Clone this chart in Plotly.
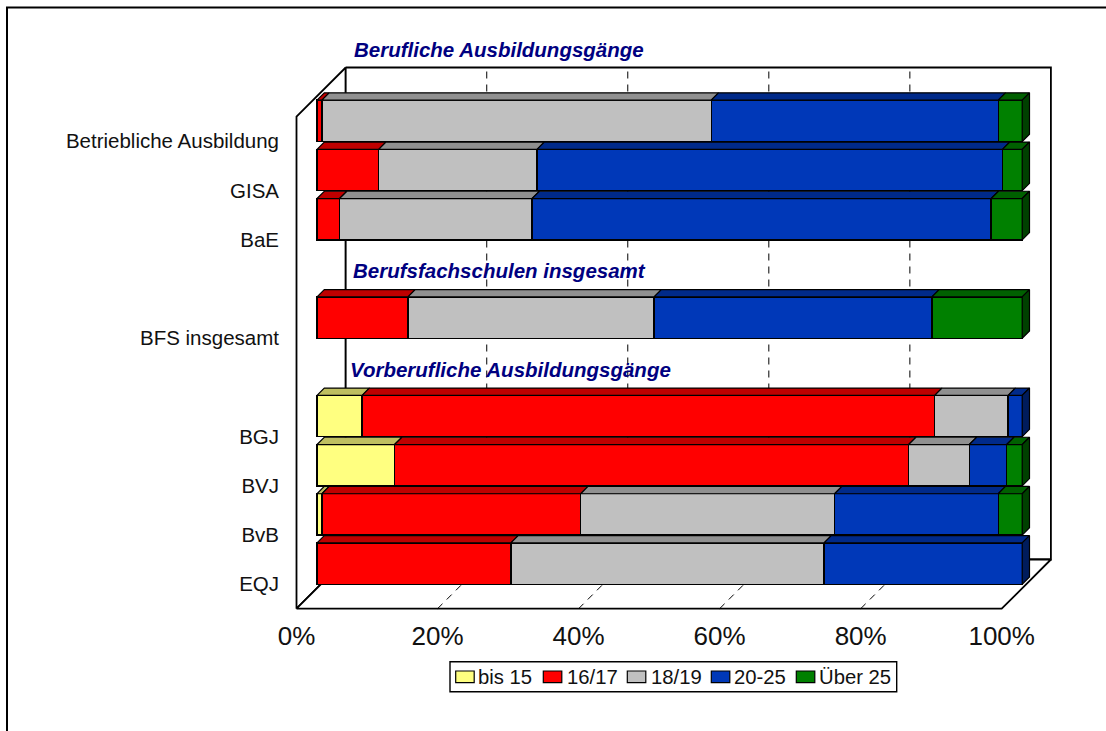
import plotly.graph_objects as go

W, H = 1106, 731

categories = ["EQJ", "BvB", "BVJ", "BGJ", "BFS insgesamt", "BaE", "GISA", "Betriebliche Ausbildung"]
slots = [0, 1, 2, 3, 5, 7, 8, 9]

bis15 = [0.0, 0.7, 11.0, 6.4, 0.0, 0.0, 0.0, 0.0]
a1617 = [27.5, 36.7, 72.9, 81.2, 12.9, 3.2, 8.75, 0.7]
a1819 = [44.4, 36.0, 8.6, 10.4, 34.9, 27.3, 22.45, 55.2]
a2025 = [28.1, 23.2, 5.3, 2.0, 39.4, 65.1, 66.0, 40.7]
ue25 = [0.0, 3.4, 2.2, 0.0, 12.8, 4.4, 2.8, 3.4]

series = [
    ("bis 15", bis15, "#FFFF80", "#BFBF60", "#808040"),
    ("16/17", a1617, "#FF0000", "#BF0000", "#800000"),
    ("18/19", a1819, "#C0C0C0", "#909090", "#606060"),
    ("20-25", a2025, "#0038B8", "#002A8A", "#001C5C"),
    ("Über 25", ue25, "#008000", "#006000", "#004000"),
]

ticks = [0, 20, 40, 60, 80, 100]
tick_labels = ["0%", "20%", "40%", "60%", "80%", "100%"]

titles = [
    ("Berufliche Ausbildungsgänge", 353, 49),
    ("Berufsfachschulen insgesamt", 352, 270),
    ("Vorberufliche Ausbildungsgänge", 349, 369),
]

legend_swatch_left = [455.7, 543.3, 627.3, 711.3, 796.3]
legend_text_left = [476.7, 566, 650, 732.7, 817.7]

# pixel scale of the drawing
PX_X, PX_Y = 7.052, 49.2
X0, Y0 = 296.5, 584.1          # pixel of 0 % / of slot 0 on the front plane
SHIFT = 20.5                   # bars stand this far behind the front plane
BAR_DEPTH = 7.3
BACK_X = 49.2 / PX_X           # wall depth in data units
BACK_Y = 1.0
DX, DY = BAR_DEPTH / PX_X, BAR_DEPTH / PX_Y

BLACK = "#000000"
fig = go.Figure()

# ---- walls and floor on the front-plane axes
def outline(xs, ys, width=1.8, dash=None, fill=None):
    fig.add_trace(go.Scatter(
        x=xs, y=ys, mode="lines", showlegend=False, hoverinfo="skip",
        line=dict(color=BLACK, width=width, dash=dash),
        fill="toself" if fill else None, fillcolor=fill, xaxis="x", yaxis="y"))

outline([0, 0, BACK_X, BACK_X, 0], [-0.5, 9.5, 10.5, 0.5, -0.5], fill="#FFFFFF")
outline([BACK_X, 100 + BACK_X, 100 + BACK_X, BACK_X, BACK_X],
        [10.5, 10.5, 0.5, 0.5, 10.5], fill="#FFFFFF")
outline([0, 100, 100 + BACK_X, BACK_X, 0], [-0.5, -0.5, 0.5, 0.5, -0.5], fill="#FFFFFF")
for t in ticks[1:-1]:
    outline([t + BACK_X, t + BACK_X], [0.5, 10.5], width=1, dash="7px,6px")
    outline([t, t + BACK_X], [-0.5, 0.5], width=1, dash="7px,6px")

# ---- stacked bars
for name, vals, front, top, side in series:
    fig.add_trace(go.Bar(
        name=name, y=slots, x=vals, orientation="h", showlegend=False,
        marker=dict(color=front, line=dict(color=BLACK, width=1.4)),
        xaxis="x2", yaxis="y2", hoverinfo="name+x"))

# ---- top and side faces of each stacked segment
start = [0.0] * len(slots)
half = 0.84 / 2
for name, vals, front, top, side in series:
    tx, ty, sx, sy = [], [], [], []
    for i, v in enumerate(vals):
        a, b = start[i], start[i] + v
        yt = slots[i] + half
        if v > 0:
            tx += [a, b, b + DX, a + DX, a, None]
            ty += [yt, yt, yt + DY, yt + DY, yt, None]
        if v > 0 and b > 99.9:
            yb = slots[i] - half
            sx += [b, b + DX, b + DX, b, b, None]
            sy += [yb, yb + DY, yt + DY, yt, yb, None]
        start[i] = b
    for xs, ys, colour in ((tx, ty, top), (sx, sy, side)):
        if xs:
            fig.add_trace(go.Scatter(
                x=xs, y=ys, mode="lines", fill="toself", fillcolor=colour,
                line=dict(color=BLACK, width=1.2), showlegend=False,
                hoverinfo="skip", xaxis="x2", yaxis="y2"))

def box(x0, y0, x1, y1, fill, lw):
    return dict(type="rect", xref="paper", yref="paper",
                x0=x0 / W, x1=x1 / W, y0=1 - y0 / H, y1=1 - y1 / H,
                fillcolor=fill, line=dict(color=BLACK, width=lw))

# ---- frame, section titles, legend box
shapes = [dict(type="path", xref="paper", yref="paper",
               path=f"M {7/W} 0 L {7/W} {1-7.5/H} L 1 {1-7.5/H}",
               line=dict(color=BLACK, width=2))]
shapes.append(box(450, 661.7, 896.7, 691.7, "#FFFFFF", 1.4))

annotations = [dict(
    text=t, x=px / W, y=1 - py / H, xref="paper", yref="paper", showarrow=False,
    xanchor="left", yanchor="middle", xshift=-1,
    font=dict(family="Liberation Sans", size=20.5, color="#000080", weight="bold", style="italic"),
) for t, px, py in titles]

for (name, vals, front, top, side), sl, tl in zip(series, legend_swatch_left, legend_text_left):
    shapes.append(box(sl, 671, sl + 18.5, 682.7, front, 1.2))
    annotations.append(dict(
        text=name, x=tl / W, y=1 - 677 / H, xref="paper", yref="paper", showarrow=False,
        xanchor="left", yanchor="middle", xshift=-1,
        font=dict(family="Liberation Sans", size=20.3, color="#111111")))

x_range = [-X0 / PX_X, (W - X0) / PX_X]
y_range = [(Y0 - H) / PX_Y, Y0 / PX_Y]
sx_, sy_ = SHIFT / PX_X, SHIFT / PX_Y

fig.update_layout(
    width=W, height=H, autosize=False,
    margin=dict(l=0, r=0, t=0, b=0),
    paper_bgcolor="#FFFFFF", plot_bgcolor="rgba(0,0,0,0)",
    font=dict(family="Liberation Sans", color=BLACK),
    barmode="stack", bargap=0.16, showlegend=False,
    shapes=shapes, annotations=annotations,
    xaxis=dict(range=x_range, domain=[0, 1], anchor="free", position=(H - 618) / H,
               tickmode="array", tickvals=ticks, ticktext=tick_labels,
               tickfont=dict(size=26, color="#111111"), showgrid=False, zeroline=False,
               showline=False, ticks=""),
    yaxis=dict(range=y_range, domain=[0, 1], anchor="free", position=279 / W,
               tickmode="array", tickvals=slots, ticktext=categories,
               tickfont=dict(size=20.5, color="#111111"), showgrid=False, zeroline=False,
               showline=False, ticks=""),
    xaxis2=dict(range=[x_range[0] - sx_, x_range[1] - sx_], overlaying="x", visible=False,
                anchor="y2"),
    yaxis2=dict(range=[y_range[0] - sy_, y_range[1] - sy_], overlaying="y", visible=False,
                anchor="x2"),
)

fig.write_html("out.html", config=dict(displayModeBar=False),
               post_script="document.body.style.margin='0';"
                           "document.documentElement.style.overflow='hidden';")
